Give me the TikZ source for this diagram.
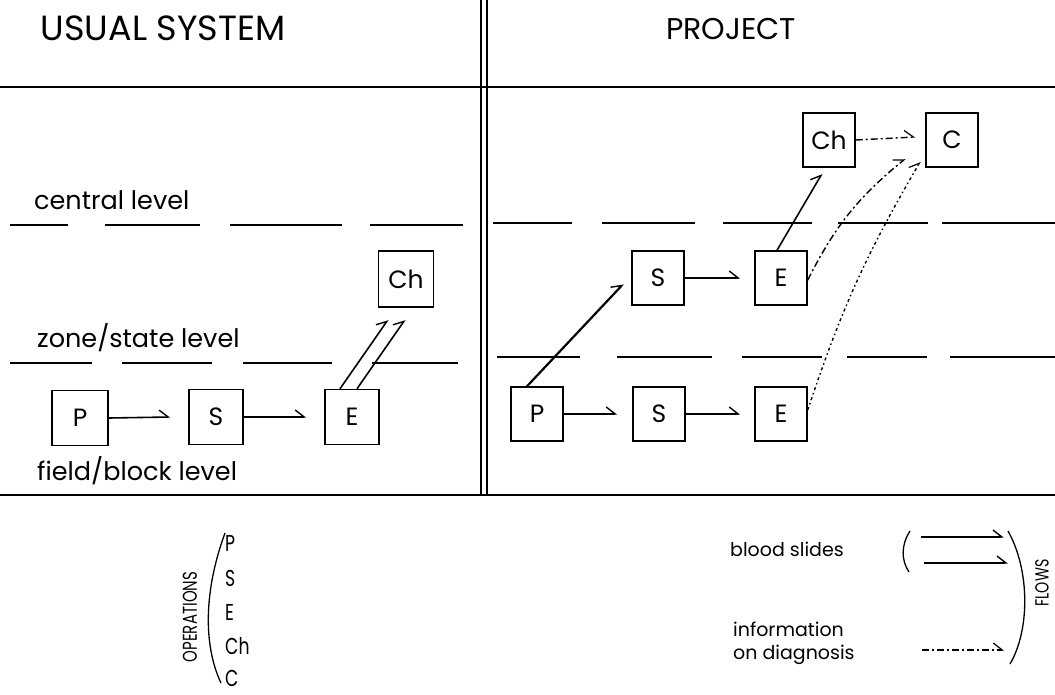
\documentclass[tikz,border=0pt]{standalone}
\usepackage{fontspec}
\setmainfont{Poppins}
\usetikzlibrary{arrows.meta,calc}
\tikzset{
  opbox/.style={draw, line width=1.5pt, minimum width=52pt, minimum height=54pt, inner sep=0pt, font=\fontsize{25}{27}\selectfont},
  frame/.style={line width=2.6pt},
  levelline/.style={line width=2.2pt},
  flow/.style={line width=1.6pt, -{Straight Barb[harpoon,length=9pt,width=14pt,line width=1.4pt]}},
  info/.style={line width=1.4pt, dash pattern=on 7pt off 3pt on 2pt off 3pt, -{Straight Barb[harpoon,length=9pt,width=14pt,line width=1.2pt]}},
  title/.style={font=\fontsize{35}{38}\selectfont, inner sep=0pt},
  lvl/.style={font=\fontsize{25.5}{28}\selectfont, inner sep=0pt, anchor=west},
  leg/.style={font=\fontsize{19}{23}\selectfont, inner sep=0pt},
  opletter/.style={inner sep=0pt, anchor=west, font=\fontsize{23}{25}\selectfont},
}
\newcommand{\narrow}[1]{\scalebox{0.75}[1]{#1}}
\begin{document}
\begin{tikzpicture}[x=1pt,y=-1pt]
\useasboundingbox (0,0) rectangle (1055,694);
% frame
\draw[frame] (0,87) -- (1055,87);
\draw[frame] (0,495) -- (1055,495);
\draw[line width=1.8pt] (481,0) -- (481,495);
\draw[line width=1.8pt] (487,0) -- (487,495);
% titles
\node[title] (t1) at (163,28) {USUAL SYSTEM};
\node[title, font=\fontsize{30}{33}\selectfont] (t2) at (731,29) {PROJECT};
% level lines
\foreach \a/\b in {10/68,105/200,230/342,370/463} \draw[levelline] (\a,225) -- (\b,225);
\foreach \a/\b in {10/92,122/212,243/332,372/458} \draw[levelline] (\a,363) -- (\b,363);
\foreach \a/\b in {493/572,602/695,723/812,838/928,942/1055} \draw[levelline] (\a,223) -- (\b,223);
\foreach \a/\b in {497/580,617/712,742/822,847/927,950/1055} \draw[levelline] (\a,357) -- (\b,357);
% level labels
\node[lvl] (l1) at (34,200) {central level};
\node[lvl] (l2) at (37,338) {zone/state level};
\node[lvl] (l3) at (37,471) {field/block level};
% left boxes
\node[opbox, minimum width=56pt, minimum height=55pt] (LP) at (80,418) {P};
\node[opbox, minimum width=54pt, minimum height=55pt] (LS) at (216,417) {S};
\node[opbox, minimum width=54pt, minimum height=55pt] (LE) at (352,417) {E};
\node[opbox, minimum width=55pt, minimum height=56pt] (LCh) at (406,279) {Ch};
% right boxes
\node[opbox] (RS1) at (658,278) {S};
\node[opbox] (RE1) at (781,278) {E};
\node[opbox] (RP0) at (537,414) {P};
\node[opbox] (RS0) at (659,414) {S};
\node[opbox] (RE0) at (781,414) {E};
\node[opbox] (RCh) at (829,140) {Ch};
\node[opbox] (RC) at (952,140) {C};
% left arrows
\draw[flow] (LP.east) -- ([xshift=-18pt]LS.west);
\draw[flow] (LS.east) -- ([xshift=-18pt]LE.west);
\draw[flow] ([xshift=-12pt]LE.north) -- ([xshift=-18pt,yshift=-12pt]LCh.south);
\draw[flow] ([xshift=5pt]LE.north) -- ([xshift=-1pt,yshift=-12pt]LCh.south);
% right arrows
\draw[flow] (RP0.east) -- ([xshift=-15pt]RS0.west);
\draw[flow] (RS0.east) -- ([xshift=-14pt]RE0.west);
\draw[flow] (RS1.east) -- ([xshift=-14pt]RS1.east -| RE1.west);
\draw[flow, line width=2.2pt] ([xshift=-10pt]RP0.north) -- ([xshift=-8pt,yshift=-6pt]RS1.west);
\draw[flow] ([xshift=-4pt]RE1.north) -- ([xshift=-7pt,yshift=-6pt]RCh.south);
\draw[info] (RCh.east) -- ([xshift=-10pt,yshift=3pt]RC.west);
\draw[info] ([yshift=-2pt]RE1.east) to[bend left=12] ([xshift=-20pt,yshift=9pt]RC.south west);
\draw[info, dash pattern=on 3pt off 3pt on 1.5pt off 3pt] ([yshift=4pt]RE0.east) to[bend left=6] ([xshift=-5pt,yshift=6pt]RC.south west);
% legend: operations
\node[leg, rotate=90, font=\fontsize{20}{22}\selectfont] (ops) at (190,617) {\narrow{OPERATIONS}};
\draw[line width=1.3pt] (225,533) .. controls (204,590) and (203,645) .. (221,683);
\node[opletter] (oP) at (225,543) {\narrow{P}};
\node[opletter] (oS) at (225,578) {\narrow{S}};
\node[opletter] (oE) at (225,612) {\narrow{E}};
\node[opletter] (oCh) at (225,646) {\narrow{Ch}};
\node[opletter] (oC) at (225,678) {\narrow{C}};
% legend: flows
\node[leg, anchor=west] (bs) at (730,549) {blood slides};
\node[leg, anchor=west, align=left] (inf) at (733,643) {information\\on diagnosis};
\draw[line width=1.3pt] (910,531) .. controls (901,545) and (901,560) .. (909,572);
\coordinate (a1s) at (921,537);
\coordinate (a1e) at (1004,537);
\coordinate (a2s) at (924,563);
\coordinate (a2e) at (1008,563);
\coordinate (a3s) at (922,650);
\coordinate (a3e) at (1004,650);
\draw[flow, line width=1.4pt] (a1s) -- (a1e);
\draw[flow, line width=1.4pt] (a2s) -- (a2e);
\draw[info] (a3s) -- (a3e);
\draw[line width=1.3pt] (1008,531) .. controls (1030,570) and (1030,630) .. (1010,664);
\node[leg, rotate=90, font=\fontsize{19}{21}\selectfont] (flows) at (1042,583) {\narrow{FLOWS}};
\end{tikzpicture}
\end{document}
